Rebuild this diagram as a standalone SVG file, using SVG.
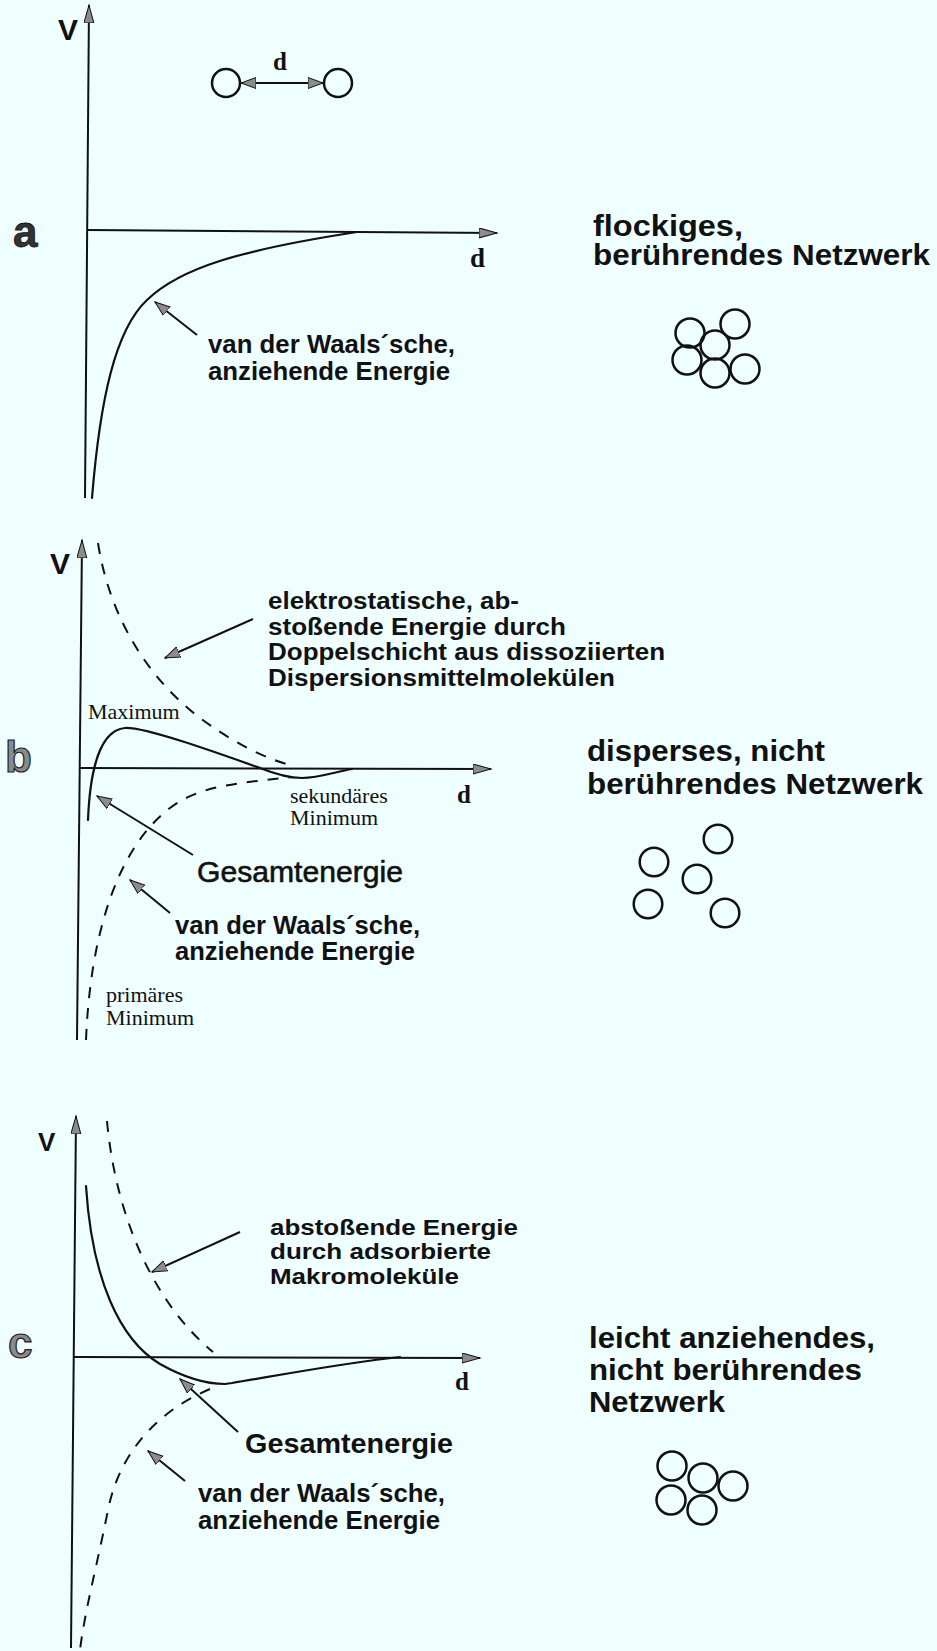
<svg xmlns="http://www.w3.org/2000/svg" width="937" height="1651" viewBox="0 0 937 1651">
<defs>
<marker id="axh" markerUnits="userSpaceOnUse" markerWidth="20" markerHeight="12" refX="18" refY="5" orient="auto"><path d="M0,0 L18,5 L0,10 Z" fill="#8c8c8c" stroke="#111" stroke-width="1"/></marker>
<marker id="anh" markerUnits="userSpaceOnUse" markerWidth="18" markerHeight="14" refX="15" refY="6" orient="auto-start-reverse"><path d="M0,0.5 L15,6 L0,11.5 Z" fill="#8c8c8c" stroke="#111" stroke-width="1"/></marker>
</defs>
<style>
.ax{fill:none;stroke:#111;stroke-width:2}
.cv{fill:none;stroke:#111;stroke-width:2.2;stroke-linecap:round}
.ds{fill:none;stroke:#111;stroke-width:2;stroke-dasharray:11 10}
.ann{fill:none;stroke:#111;stroke-width:2;marker-end:url(#anh)}
.pt{fill:none;stroke:#111;stroke-width:2.5}
.lb{font-family:"Liberation Sans",Arial,sans-serif;font-weight:bold;fill:#111}
.rg{font-family:"Liberation Sans",Arial,sans-serif;fill:#111}
.sf{font-family:"Liberation Serif","Times New Roman",serif;fill:#111}
.pn{font-family:"Liberation Sans",Arial,sans-serif;font-weight:bold;font-size:44px}
</style>
<rect width="937" height="1651" fill="#EFFFFF"/>

<!-- Panel a -->
<g id="panel-a">
  <g id="a-axes">
    <line class="ax" x1="85" y1="498" x2="89" y2="5" marker-end="url(#axh)"/>
    <line class="ax" x1="88" y1="230" x2="497" y2="233" marker-end="url(#axh)"/>
  </g>
  <g id="a-curve">
    <path class="cv" d="M92,498 C100,400 115,330 147,300 C180,268 240,250 357,232"/>
  </g>
  <g id="a-pair">
    <circle class="pt" cx="226" cy="83" r="14"/>
    <circle class="pt" cx="338" cy="83" r="14"/>
    <line x1="241" y1="83" x2="323" y2="83" stroke="#111" stroke-width="2" marker-start="url(#anh)" marker-end="url(#anh)"/>
    <text class="sf" font-weight="bold" x="273" y="70" font-size="25">d</text>
  </g>
  <g id="a-labels">
    <text class="lb" x="58" y="40" font-size="30">V</text>
    <text class="pn" x="13" y="247" fill="#333" stroke="#111" stroke-width="0.8">a</text>
    <text class="sf" font-weight="bold" x="470" y="267" font-size="27">d</text>
    <text class="lb" x="208" y="353" font-size="25" textLength="247" lengthAdjust="spacingAndGlyphs">van der Waals´sche,</text>
    <text class="lb" x="208" y="380" font-size="25" textLength="242" lengthAdjust="spacingAndGlyphs">anziehende Energie</text>
    <text class="lb" x="593" y="236" font-size="29" textLength="150" lengthAdjust="spacingAndGlyphs">flockiges,</text>
    <text class="lb" x="593" y="265" font-size="29" textLength="337" lengthAdjust="spacingAndGlyphs">berührendes Netzwerk</text>
  </g>
  <g id="a-network">
    <circle class="pt" cx="690" cy="333" r="14.5"/>
    <circle class="pt" cx="735" cy="324" r="14.5"/>
    <circle class="pt" cx="715" cy="345" r="14.5"/>
    <circle class="pt" cx="687" cy="360" r="14.5"/>
    <circle class="pt" cx="715" cy="373" r="14.5"/>
    <circle class="pt" cx="745" cy="369" r="14.5"/>
  </g>
</g>

<!-- Panel b -->
<g id="panel-b">
  <g id="b-axes">
    <line class="ax" x1="77" y1="1040" x2="82" y2="540" marker-end="url(#axh)"/>
    <line class="ax" x1="80" y1="768" x2="491" y2="769" stroke="#333" marker-end="url(#axh)"/>
  </g>
  <g id="b-curves">
    <path class="ds" d="M98,543 C110,620 150,680 200,718 C230,740 260,757 293,766"/>
    <path class="ds" d="M86,1040 C90,940 115,850 170,808 C200,785 240,783 293,777"/>
    <path class="cv" stroke="#222" d="M88,820 C90,770 100,730 125,728 C145,727 215,752 260,768 C275,774 288,778 302,778 C318,778 335,772 352,769"/>
  </g>
  <g id="b-labels">
    <text class="lb" x="50" y="574" font-size="30">V</text>
    <text class="pn" x="5" y="772" fill="#8a8a8a" stroke="#222" stroke-width="1.2">b</text>
    <text class="sf" font-weight="bold" x="457" y="803" font-size="25">d</text>
    <text class="lb" x="268" y="609" font-size="23" textLength="251" lengthAdjust="spacingAndGlyphs">elektrostatische, ab-</text>
    <text class="lb" x="268" y="635" font-size="23" textLength="298" lengthAdjust="spacingAndGlyphs">stoßende Energie durch</text>
    <text class="lb" x="268" y="660" font-size="23" textLength="397" lengthAdjust="spacingAndGlyphs">Doppelschicht aus dissoziierten</text>
    <text class="lb" x="268" y="686" font-size="23" textLength="347" lengthAdjust="spacingAndGlyphs">Dispersionsmittelmolekülen</text>
    <text class="sf" x="88" y="719" font-size="22">Maximum</text>
    <text class="sf" x="290" y="803" font-size="22">sekundäres</text>
    <text class="sf" x="290" y="825" font-size="22">Minimum</text>
    <text class="rg" x="197" y="882" font-size="30" stroke="#111" stroke-width="0.6" textLength="206" lengthAdjust="spacingAndGlyphs">Gesamtenergie</text>
    <text class="lb" x="175" y="934" font-size="25" textLength="245" lengthAdjust="spacingAndGlyphs">van der Waals´sche,</text>
    <text class="lb" x="175" y="960" font-size="25" textLength="240" lengthAdjust="spacingAndGlyphs">anziehende Energie</text>
    <text class="sf" x="106" y="1002" font-size="22">primäres</text>
    <text class="sf" x="106" y="1025" font-size="22">Minimum</text>
    <text class="lb" x="587" y="761" font-size="29" textLength="238" lengthAdjust="spacingAndGlyphs">disperses, nicht</text>
    <text class="lb" x="587" y="794" font-size="29" textLength="336" lengthAdjust="spacingAndGlyphs">berührendes Netzwerk</text>
  </g>
  <g id="b-network">
    <circle class="pt" cx="718" cy="839" r="14.3"/>
    <circle class="pt" cx="654" cy="862" r="14.3"/>
    <circle class="pt" cx="697" cy="879" r="14.3"/>
    <circle class="pt" cx="648" cy="904" r="14.3"/>
    <circle class="pt" cx="725" cy="913" r="14.3"/>
  </g>
</g>

<!-- Panel c -->
<g id="panel-c">
  <g id="c-axes">
    <line class="ax" x1="71" y1="1648" x2="76" y2="1116" marker-end="url(#axh)"/>
    <line class="ax" x1="73" y1="1357" x2="480" y2="1358" marker-end="url(#axh)"/>
  </g>
  <g id="c-curves">
    <path class="ds" d="M107,1121 C115,1210 150,1300 213,1352"/>
    <path class="ds" d="M210,1389 C160,1410 120,1450 108,1510 C96,1570 85,1610 80,1650"/>
    <path class="cv" d="M86,1186 C92,1280 120,1340 160,1364 C185,1378 205,1384 225,1384 L232,1383 C280,1375 350,1362 400,1357"/>
  </g>
  <g id="c-labels">
    <text class="lb" x="38" y="1151" font-size="26">V</text>
    <text class="pn" x="8" y="1358" fill="#8a8a8a" stroke="#222" stroke-width="1.2">c</text>
    <text class="sf" font-weight="bold" x="455" y="1390" font-size="25">d</text>
    <text class="lb" x="270" y="1235" font-size="22" textLength="248" lengthAdjust="spacingAndGlyphs">abstoßende Energie</text>
    <text class="lb" x="270" y="1259" font-size="22" textLength="221" lengthAdjust="spacingAndGlyphs">durch adsorbierte</text>
    <text class="lb" x="270" y="1284" font-size="22" textLength="189" lengthAdjust="spacingAndGlyphs">Makromoleküle</text>
    <text class="lb" x="245" y="1453" font-size="28.5" textLength="208" lengthAdjust="spacingAndGlyphs">Gesamtenergie</text>
    <text class="lb" x="198" y="1502" font-size="25" textLength="247" lengthAdjust="spacingAndGlyphs">van der Waals´sche,</text>
    <text class="lb" x="198" y="1529" font-size="25" textLength="242" lengthAdjust="spacingAndGlyphs">anziehende Energie</text>
    <text class="lb" x="589" y="1348" font-size="30" textLength="286" lengthAdjust="spacingAndGlyphs">leicht anziehendes,</text>
    <text class="lb" x="589" y="1380" font-size="30" textLength="273" lengthAdjust="spacingAndGlyphs">nicht berührendes</text>
    <text class="lb" x="589" y="1412" font-size="30" textLength="136" lengthAdjust="spacingAndGlyphs">Netzwerk</text>
  </g>
  <g id="c-network">
    <circle class="pt" cx="672" cy="1466" r="14.5"/>
    <circle class="pt" cx="703" cy="1478" r="14.5"/>
    <circle class="pt" cx="733" cy="1486" r="14.5"/>
    <circle class="pt" cx="671" cy="1500" r="14.5"/>
    <circle class="pt" cx="702" cy="1510" r="14.5"/>
  </g>
</g>

<!-- Annotation connectors -->
<g id="connectors">
  <line class="ann" x1="197" y1="335" x2="155" y2="302"/>
  <line class="ann" x1="253" y1="619" x2="165" y2="658"/>
  <line class="ann" x1="193" y1="855" x2="97" y2="796"/>
  <line class="ann" x1="170" y1="913" x2="130" y2="880"/>
  <line class="ann" x1="240" y1="1232" x2="152" y2="1272"/>
  <line class="ann" x1="238" y1="1432" x2="180" y2="1379"/>
  <line class="ann" x1="185" y1="1481" x2="148" y2="1451"/>
</g>
</svg>
